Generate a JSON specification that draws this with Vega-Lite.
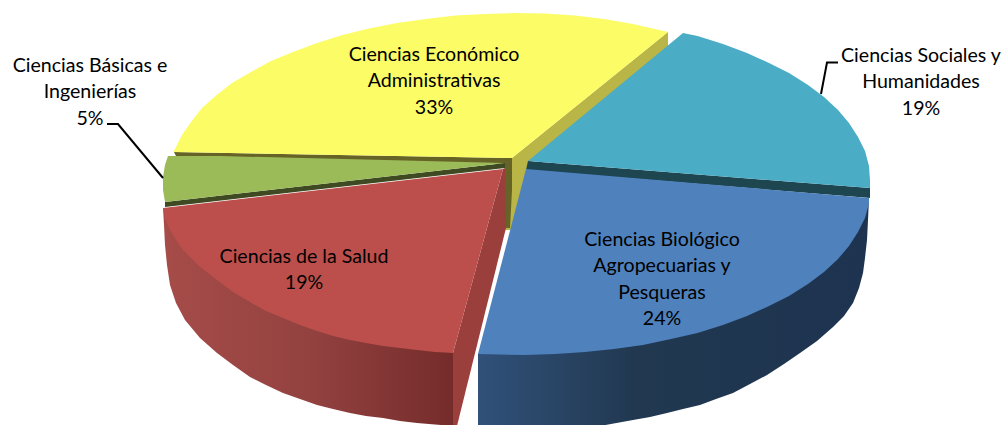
{
"$schema":"https://vega.github.io/schema/vega-lite/v6.json",
"width":1005,"height":425,"padding":0,"autosize":{"type":"none"},
"background":"white","view":{"stroke":null},
"datasets":{
"flat":[
{"p":"a yellow face","o":1,"x":512,"y":158},{"p":"a yellow face","o":2,"x":668,"y":32},{"p":"a yellow face","o":3,"x":668,"y":46},{"p":"a yellow face","o":4,"x":528,"y":165},{"p":"a yellow face","o":5,"x":511,"y":230},{"p":"a yellow face","o":6,"x":505,"y":230},
{"p":"b yellow inner","o":1,"x":505,"y":158},{"p":"b yellow inner","o":2,"x":512,"y":158},{"p":"b yellow inner","o":3,"x":512,"y":190},{"p":"b yellow inner","o":4,"x":510,"y":228},{"p":"b yellow inner","o":5,"x":505,"y":228},
{"p":"c yellow band","o":1,"x":174,"y":152},{"p":"c yellow band","o":2,"x":512,"y":158},{"p":"c yellow band","o":3,"x":505,"y":164},{"p":"c yellow band","o":4,"x":176,"y":156},
{"p":"d yellow","o":1,"x":173,"y":152},{"p":"d yellow","o":2,"x":175,"y":149},{"p":"d yellow","o":3,"x":182,"y":135},{"p":"d yellow","o":4,"x":191,"y":122},{"p":"d yellow","o":5,"x":202,"y":108},{"p":"d yellow","o":6,"x":216,"y":95.5},{"p":"d yellow","o":7,"x":232,"y":83},{"p":"d yellow","o":8,"x":251,"y":72},{"p":"d yellow","o":9,"x":271,"y":61},{"p":"d yellow","o":10,"x":293,"y":52},{"p":"d yellow","o":11,"x":317,"y":43},{"p":"d yellow","o":12,"x":342.5,"y":35},{"p":"d yellow","o":13,"x":369,"y":28.5},{"p":"d yellow","o":14,"x":397,"y":23},{"p":"d yellow","o":15,"x":426,"y":19},{"p":"d yellow","o":16,"x":455,"y":15.5},{"p":"d yellow","o":17,"x":485,"y":14},{"p":"d yellow","o":18,"x":515,"y":13},{"p":"d yellow","o":19,"x":545,"y":13.6},{"p":"d yellow","o":20,"x":575,"y":15.5},{"p":"d yellow","o":21,"x":604,"y":19},{"p":"d yellow","o":22,"x":633,"y":24},{"p":"d yellow","o":23,"x":668,"y":32},{"p":"d yellow","o":24,"x":512,"y":158},
{"p":"e green band","o":1,"x":165,"y":202},{"p":"e green band","o":2,"x":505,"y":163},{"p":"e green band","o":3,"x":505,"y":168},{"p":"e green band","o":4,"x":165,"y":207},
{"p":"f green","o":1,"x":168,"y":156},{"p":"f green","o":2,"x":220,"y":156},{"p":"f green","o":3,"x":505,"y":163},{"p":"f green","o":4,"x":165,"y":202},{"p":"f green","o":5,"x":163,"y":190},{"p":"f green","o":6,"x":163,"y":177},{"p":"f green","o":7,"x":165,"y":165},
{"p":"g teal band","o":1,"x":528,"y":161},{"p":"g teal band","o":2,"x":870,"y":188},{"p":"g teal band","o":3,"x":870,"y":198},{"p":"g teal band","o":4,"x":526,"y":170},
{"p":"h teal","o":1,"x":528,"y":161},{"p":"h teal","o":2,"x":683,"y":33},{"p":"h teal","o":3,"x":697.5,"y":36},{"p":"h teal","o":4,"x":723,"y":44},{"p":"h teal","o":5,"x":747,"y":53},{"p":"h teal","o":6,"x":769,"y":63},{"p":"h teal","o":7,"x":789,"y":73},{"p":"h teal","o":8,"x":808,"y":85},{"p":"h teal","o":9,"x":824,"y":97},{"p":"h teal","o":10,"x":838,"y":110},{"p":"h teal","o":11,"x":849,"y":123},{"p":"h teal","o":12,"x":858,"y":137},{"p":"h teal","o":13,"x":865,"y":151},{"p":"h teal","o":14,"x":869,"y":166},{"p":"h teal","o":15,"x":870,"y":180},{"p":"h teal","o":16,"x":870,"y":188}
],
"redside":[
{"o":1,"x":163,"y":208},{"o":2,"x":164,"y":225},{"o":3,"x":165,"y":245},{"o":4,"x":167,"y":265},{"o":5,"x":170,"y":285},{"o":6,"x":176,"y":303},{"o":7,"x":185,"y":320},{"o":8,"x":200,"y":338},{"o":9,"x":217,"y":353},{"o":10,"x":233,"y":365},{"o":11,"x":250,"y":377},{"o":12,"x":266,"y":385},{"o":13,"x":283,"y":393},{"o":14,"x":300,"y":399},{"o":15,"x":317,"y":405},{"o":16,"x":333,"y":409},{"o":17,"x":350,"y":413},{"o":18,"x":366,"y":416},{"o":19,"x":383,"y":418},{"o":20,"x":400,"y":421},{"o":21,"x":417,"y":423},{"o":22,"x":435,"y":424.5},{"o":23,"x":453,"y":426},{"o":24,"x":453,"y":353}
],
"blueside":[
{"o":1,"x":869,"y":198},{"o":2,"x":868,"y":220},{"o":3,"x":867,"y":240},{"o":4,"x":865,"y":258},{"o":5,"x":863,"y":273},{"o":6,"x":859,"y":288},{"o":7,"x":853,"y":303},{"o":8,"x":844,"y":316},{"o":9,"x":833,"y":327},{"o":10,"x":817,"y":341},{"o":11,"x":800,"y":353},{"o":12,"x":784,"y":364},{"o":13,"x":767,"y":375},{"o":14,"x":750,"y":384},{"o":15,"x":733,"y":393},{"o":16,"x":716,"y":399},{"o":17,"x":700,"y":405},{"o":18,"x":683,"y":409},{"o":19,"x":667,"y":413},{"o":20,"x":650,"y":417},{"o":21,"x":633,"y":420},{"o":22,"x":600,"y":426},{"o":23,"x":478,"y":430},{"o":24,"x":478,"y":354}
],
"top":[
{"p":"i red face","o":1,"x":503,"y":169},{"p":"i red face","o":2,"x":453,"y":353},{"p":"i red face","o":3,"x":453,"y":430},{"p":"i red face","o":4,"x":456,"y":430},{"p":"i red face","o":5,"x":506,"y":228},{"p":"i red face","o":6,"x":505,"y":168},
{"p":"j red","o":1,"x":503,"y":169},{"p":"j red","o":2,"x":163,"y":208},{"p":"j red","o":3,"x":165,"y":219},{"p":"j red","o":4,"x":170,"y":230},{"p":"j red","o":5,"x":176,"y":240},{"p":"j red","o":6,"x":183,"y":250},{"p":"j red","o":7,"x":199,"y":266},{"p":"j red","o":8,"x":217,"y":280},{"p":"j red","o":9,"x":233,"y":292},{"p":"j red","o":10,"x":250,"y":302},{"p":"j red","o":11,"x":266,"y":311},{"p":"j red","o":12,"x":283,"y":318},{"p":"j red","o":13,"x":300,"y":325},{"p":"j red","o":14,"x":317,"y":331},{"p":"j red","o":15,"x":333,"y":336},{"p":"j red","o":16,"x":350,"y":340},{"p":"j red","o":17,"x":366,"y":343},{"p":"j red","o":18,"x":383,"y":346},{"p":"j red","o":19,"x":400,"y":348},{"p":"j red","o":20,"x":417,"y":350},{"p":"j red","o":21,"x":435,"y":352},{"p":"j red","o":22,"x":453,"y":353},
{"p":"k blue","o":1,"x":526,"y":169},{"p":"k blue","o":2,"x":869,"y":198},{"p":"k blue","o":3,"x":869,"y":203.5},{"p":"k blue","o":4,"x":865,"y":218},{"p":"k blue","o":5,"x":858,"y":232},{"p":"k blue","o":6,"x":849,"y":246},{"p":"k blue","o":7,"x":838,"y":259},{"p":"k blue","o":8,"x":824,"y":272},{"p":"k blue","o":9,"x":808,"y":284},{"p":"k blue","o":10,"x":789,"y":296},{"p":"k blue","o":11,"x":769,"y":306},{"p":"k blue","o":12,"x":747,"y":316},{"p":"k blue","o":13,"x":723,"y":325},{"p":"k blue","o":14,"x":697.5,"y":333},{"p":"k blue","o":15,"x":671,"y":339},{"p":"k blue","o":16,"x":643,"y":345},{"p":"k blue","o":17,"x":614,"y":349},{"p":"k blue","o":18,"x":585,"y":352},{"p":"k blue","o":19,"x":555,"y":354},{"p":"k blue","o":20,"x":525,"y":355},{"p":"k blue","o":21,"x":478,"y":354}
],
"leaders":[
{"l":"left","o":1,"x":107,"y":124},{"l":"left","o":2,"x":118,"y":124},{"l":"left","o":3,"x":163,"y":178},
{"l":"right","o":1,"x":838,"y":62.5},{"l":"right","o":2,"x":827,"y":62.5},{"l":"right","o":3,"x":821,"y":94}
],
"labels":[
{"t":"Ciencias Económico\nAdministrativas\n33%","x":434,"y":55},
{"t":"Ciencias Básicas e\nIngenierías\n5%","x":90,"y":66},
{"t":"Ciencias Sociales y\nHumanidades\n19%","x":921,"y":56},
{"t":"Ciencias Biológico\nAgropecuarias y\nPesqueras\n24%","x":662,"y":240},
{"t":"Ciencias de la Salud\n19%","x":304,"y":257}
]
},
"encoding":{
"x":{"field":"x","type":"quantitative","scale":{"domain":[0,1005],"nice":false,"zero":false},"axis":null},
"y":{"field":"y","type":"quantitative","scale":{"domain":[425,0],"nice":false,"zero":false},"axis":null}
},
"layer":[
{"data":{"name":"flat"},
"mark":{"type":"line","strokeWidth":0,"interpolate":"linear-closed"},
"encoding":{"order":{"field":"o"},"fill":{"field":"p","type":"nominal","legend":null,"scale":{"domain":["a yellow face","b yellow inner","c yellow band","d yellow","e green band","f green","g teal band","h teal","i red face","j red","k blue"],"range":["#B9B546","#666327","#666327","#FCFC66","#3F4A23","#9BBB59","#1E4651","#4BACC6","#9B3F3C","#BC4F4C","#4F81BD"]}}}},
{"data":{"name":"redside"},
"mark":{"type":"line","strokeWidth":0,"interpolate":"linear-closed","fill":{"gradient":"linear","x1":0,"y1":0,"x2":1,"y2":0,"stops":[{"offset":0,"color":"#A64C49"},{"offset":0.5,"color":"#934240"},{"offset":1,"color":"#742C2B"}]}},
"encoding":{"order":{"field":"o"}}},
{"data":{"name":"blueside"},
"mark":{"type":"line","strokeWidth":0,"interpolate":"linear-closed","fill":{"gradient":"linear","x1":0,"y1":0,"x2":1,"y2":0,"stops":[{"offset":0,"color":"#31517A"},{"offset":0.4,"color":"#213850"},{"offset":1,"color":"#1D3350"}]}},
"encoding":{"order":{"field":"o"}}},
{"data":{"name":"top"},
"mark":{"type":"line","strokeWidth":0,"interpolate":"linear-closed"},
"encoding":{"order":{"field":"o"},"fill":{"field":"p","type":"nominal","legend":null}}},
{"data":{"name":"leaders"},
"mark":{"type":"line","stroke":"black","strokeWidth":2},
"encoding":{"order":{"field":"o"},"detail":{"field":"l"}}},
{"data":{"name":"labels"},
"mark":{"type":"text","font":"Lato","fontSize":19.6,"lineBreak":"\n","lineHeight":26.4,"align":"center","baseline":"middle","color":"black"},
"encoding":{"text":{"field":"t"}}}
]
}
